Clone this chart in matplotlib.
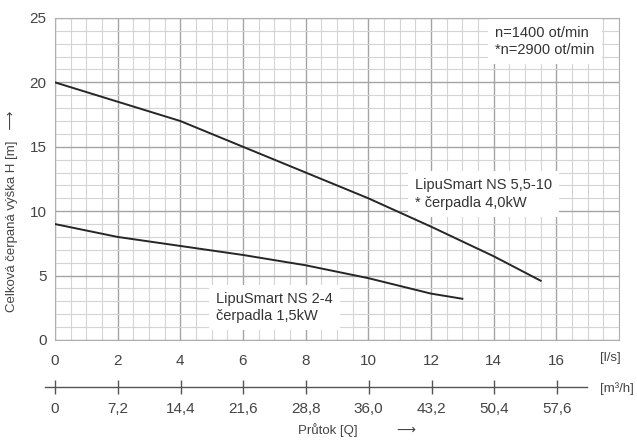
import matplotlib.pyplot as plt
from matplotlib.ticker import MultipleLocator

plt.rcParams['font.family'] = ['Liberation Sans', 'DejaVu Sans']

# curve data (Q in l/s, H in m)
q_big = [0, 2, 4, 6, 8, 10, 12, 14, 15.5]
h_big = [20, 18.5, 17, 15, 13, 11, 8.8, 6.5, 4.6]
q_small = [0, 2, 4, 6, 8, 10, 12, 13]
h_small = [9, 8, 7.3, 6.6, 5.8, 4.8, 3.6, 3.2]

ls_ticks = [0, 2, 4, 6, 8, 10, 12, 14, 16]
m3h_ticks = [0, 7.2, 14.4, 21.6, 28.8, 36.0, 43.2, 50.4, 57.6]
m3h_labels = ['0', '7,2', '14,4', '21,6', '28,8', '36,0', '43,2', '50,4', '57,6']

txt = '#444444'
fig = plt.figure(figsize=(6.37, 4.45), dpi=100)
ax = fig.add_axes([0.0863, 0.236, 0.8855, 0.7236])

ax.plot(q_big, h_big, color='#262626', lw=1.4, zorder=3)
ax.plot(q_small, h_small, color='#262626', lw=1.4, zorder=3)

ax.set_xlim(0, 18)
ax.set_ylim(0, 25)
ax.set_xticks(ls_ticks)
ax.set_yticks([0, 5, 10, 15, 20, 25])
ax.xaxis.set_minor_locator(MultipleLocator(0.5))
ax.yaxis.set_minor_locator(MultipleLocator(1))
ax.grid(which='major', color='#a4a4a4', lw=1.0)
ax.grid(which='minor', color='#d4d4d4', lw=0.8)
ax.set_axisbelow(True)
ax.tick_params(which='both', length=0, labelsize=11, colors=txt)
ax.tick_params(axis='x', pad=10)
ax.tick_params(axis='y', pad=6)
for s in ax.spines.values():
    s.set_color('#b0b0b0')
    s.set_linewidth(0.8)

fig.text(0.942, 0.195, '[l/s]', fontsize=9.5, color=txt, ha='left', va='center')

box = dict(facecolor='white', edgecolor='none', pad=5)
ax.text(14.05, 24.4, 'n=1400 ot/min\n*n=2900 ot/min', fontsize=10.5, color='#333333',
        va='top', ha='left', bbox=box, linespacing=1.3, zorder=2)
ax.text(11.5, 12.55, 'LipuSmart NS 5,5-10\n* čerpadla 4,0kW', fontsize=10.5, color='#333333',
        va='top', ha='left', bbox=box, linespacing=1.3, zorder=2)
ax.text(5.15, 3.75, 'LipuSmart NS 2-4\nčerpadla 1,5kW', fontsize=10.5, color='#333333',
        va='top', ha='left', bbox=box, linespacing=1.3, zorder=2)

ax.set_ylabel('Celková čerpaná výška H [m]   ⟶', fontsize=9.5, color=txt)
ax.yaxis.set_label_coords(-0.066, 0.40)

# second flow axis in m3/h
ax2 = fig.add_axes([45 / 637, 58 / 445, 542 / 637, 0.001])
ax2.set_xlim(-1.147, 61.04)
ax2.set_ylim(0, 1)
ax2.set_yticks([])
for k in ['top', 'left', 'right']:
    ax2.spines[k].set_visible(False)
ax2.spines['bottom'].set_color('#555555')
ax2.spines['bottom'].set_linewidth(1.0)
ax2.set_xticks(m3h_ticks)
ax2.set_xticklabels(m3h_labels)
ax2.tick_params(axis='x', direction='inout', length=10, width=1.0, color='#555555',
                labelsize=11, labelcolor=txt, pad=6)
ax2.patch.set_visible(False)
fig.text(0.942, 0.127, '[m³/h]', fontsize=9.5, color=txt, ha='left', va='center')

fig.text(0.515, 0.018, 'Průtok [Q]', fontsize=9.5, color=txt, ha='center', va='bottom')
fig.text(0.622, 0.018, '⟶', fontsize=9.5, color=txt, ha='left', va='bottom')

fig.savefig('out.png', dpi=100)
